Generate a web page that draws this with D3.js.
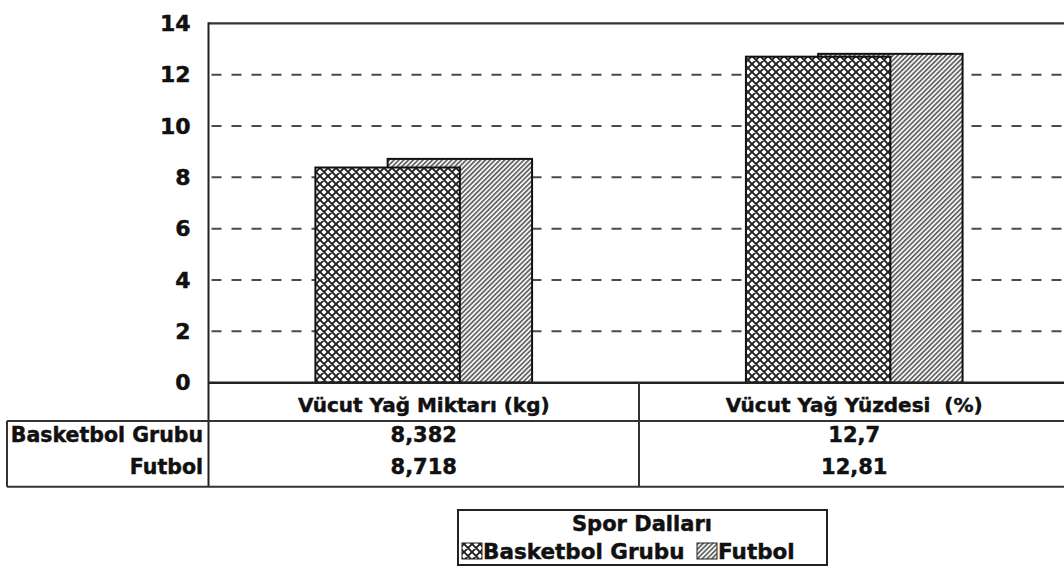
<!DOCTYPE html>
<html>
<head>
<meta charset="utf-8">
<script src="https://cdn.jsdelivr.net/npm/d3@7"></script>
<style>
  html, body { margin: 0; padding: 0; background: #fff; overflow: hidden; }
  svg { display: block; }
  text { font-family: "DejaVu Sans", "Liberation Sans", Arial, sans-serif; font-weight: bold; fill: #111; stroke: #111; stroke-width: 0.45px; }
</style>
</head>
<body>
<script>
// Body fat measures by sport group
const categories = ["Vücut Yağ Miktarı (kg)", "Vücut Yağ Yüzdesi  (%)"];
const seriesNames = ["Basketbol Grubu", "Futbol"];
const basketbolValues = [8.382, 12.7];
const futbolValues = [8.718, 12.81];
const valueLabels = [["8,382", "12,7"], ["8,718", "12,81"]];
const yTicks = [0, 2, 4, 6, 8, 10, 12, 14];
const legendTitle = "Spor Dalları";

const W = 1064, H = 567;
const svg = d3.select("body").append("svg").attr("width", W).attr("height", H);

// Fill patterns
const defs = svg.append("defs");
const cross = defs.append("pattern").attr("id", "pat-cross")
  .attr("patternUnits", "userSpaceOnUse").attr("width", 8).attr("height", 8);
cross.append("rect").attr("width", 8).attr("height", 8).attr("fill", "#fff");
cross.append("path")
  .attr("d", "M0,0L8,8M8,0L0,8M-2,6L2,10M6,-2L10,2M-2,2L2,-2M6,10L10,6")
  .attr("stroke", "#1e1e1e").attr("stroke-width", 1.9);

const diag = defs.append("pattern").attr("id", "pat-diag")
  .attr("patternUnits", "userSpaceOnUse").attr("width", 3.4).attr("height", 3.4)
  .attr("patternTransform", "rotate(45)");
diag.append("rect").attr("width", 3.4).attr("height", 3.4).attr("fill", "#f4f4f4");
diag.append("line").attr("x1", 0.8).attr("y1", 0).attr("x2", 0.8).attr("y2", 3.4)
  .attr("stroke", "#3a3a3a").attr("stroke-width", 1.3);

const fills = { "Basketbol Grubu": "url(#pat-cross)", "Futbol": "url(#pat-diag)" };

// Plot geometry
const plot = { left: 208.5, right: 1069.5, top: 23.3, bottom: 382.7 };
const table = { left: 7, headerBottom: 421, bottom: 486.7 };

const x = d3.scaleBand().domain(categories).range([plot.left, plot.right]).paddingInner(0).paddingOuter(0);
const y = d3.scaleLinear().domain([0, 14]).range([plot.bottom, plot.top]);

// Bars overlap by half their width; the group is 1.5 bar widths wide
const barW = x.bandwidth() * 0.3355;
const groupW = barW * 1.5;
const seriesOffset = d3.scaleOrdinal().domain(seriesNames).range([0, barW * 0.5]);

// Dashed gridlines
svg.append("g").selectAll("line").data(yTicks.filter(t => t > 0 && t < 14)).join("line")
  .attr("x1", plot.left + 3).attr("x2", plot.right)
  .attr("y1", d => y(d)).attr("y2", d => y(d))
  .attr("stroke", "#4a4a4a").attr("stroke-width", 2)
  .attr("stroke-dasharray", "10,10");

// Plot frame (top)
svg.append("line").attr("x1", plot.left).attr("x2", plot.right)
  .attr("y1", y(14)).attr("y2", y(14)).attr("stroke", "#333").attr("stroke-width", 2.2);

// Bars: Futbol behind, Basketbol in front
const seriesData = [
  { name: "Futbol", values: futbolValues },
  { name: "Basketbol Grubu", values: basketbolValues }
];
seriesData.forEach(s => {
  svg.append("g").selectAll("rect").data(s.values.map((v, i) => ({ c: categories[i], v }))).join("rect")
    .attr("x", d => x(d.c) + (x.bandwidth() - groupW) / 2 + seriesOffset(s.name))
    .attr("y", d => y(d.v))
    .attr("width", barW)
    .attr("height", d => y(0) - y(d.v))
    .attr("fill", fills[s.name])
    .attr("stroke", "#111").attr("stroke-width", 2);
});

// Y axis labels
const yAxis = d3.axisLeft(y).tickValues(yTicks).tickSize(0).tickPadding(18).tickFormat(d3.format("d"));
const yg = svg.append("g").attr("transform", `translate(${plot.left},0)`).call(yAxis);
yg.select(".domain").remove();
yg.selectAll("text").style("font-size", "22px").attr("fill", "#111")
  .style("font-family", "\"DejaVu Sans\", sans-serif").style("font-weight", "bold");

// Zero line and left axis line
svg.append("line").attr("x1", plot.left).attr("x2", plot.right)
  .attr("y1", y(0)).attr("y2", y(0)).attr("stroke", "#222").attr("stroke-width", 2.6);
svg.append("line").attr("x1", plot.left).attr("x2", plot.left)
  .attr("y1", y(14) - 1).attr("y2", table.bottom).attr("stroke", "#222").attr("stroke-width", 2);

// Data table
const tg = svg.append("g");
const lineStyle = sel => sel.attr("stroke", "#333").attr("stroke-width", 2);
tg.append("line").attr("x1", table.left).attr("x2", plot.right)
  .attr("y1", table.headerBottom).attr("y2", table.headerBottom).call(lineStyle);
tg.append("line").attr("x1", table.left).attr("x2", plot.right)
  .attr("y1", table.bottom).attr("y2", table.bottom).call(lineStyle);
tg.append("line").attr("x1", table.left).attr("x2", table.left)
  .attr("y1", table.headerBottom).attr("y2", table.bottom).call(lineStyle);
tg.selectAll("line.col").data(categories.slice(1)).join("line").attr("class", "col")
  .attr("x1", d => x(d)).attr("x2", d => x(d))
  .attr("y1", plot.bottom).attr("y2", table.bottom).call(lineStyle);

tg.selectAll("text.hdr").data(categories).join("text").attr("class", "hdr")
  .attr("x", d => x(d) + x.bandwidth() / 2).attr("y", 411.5)
  .attr("text-anchor", "middle").style("font-size", "20px").style("white-space", "pre")
  .text(d => d);

const rowBase = [442, 474];
tg.selectAll("text.rowlab").data(seriesNames).join("text").attr("class", "rowlab")
  .attr("x", 203).attr("y", (d, i) => rowBase[i])
  .attr("text-anchor", "end").style("font-size", "20.5px").text(d => d);

valueLabels.forEach((row, r) => {
  tg.selectAll(`text.val${r}`).data(row).join("text").attr("class", `val${r}`)
    .attr("x", (d, i) => x(categories[i]) + x.bandwidth() / 2).attr("y", rowBase[r])
    .attr("text-anchor", "middle").style("font-size", "21px").text(d => d);
});

// Legend
const lg = svg.append("g");
lg.append("rect").attr("x", 458).attr("y", 510).attr("width", 369).attr("height", 55)
  .attr("fill", "#fff").attr("stroke", "#222").attr("stroke-width", 2);
lg.append("text").attr("x", 642).attr("y", 531).attr("text-anchor", "middle")
  .style("font-size", "21px").text(legendTitle);
const legendItems = [{ name: "Basketbol Grubu", x: 462 }, { name: "Futbol", x: 697 }];
legendItems.forEach(it => {
  lg.append("rect").attr("x", it.x).attr("y", 543).attr("width", 20).attr("height", 16)
    .attr("fill", fills[it.name]).attr("stroke", "#222").attr("stroke-width", 1);
  lg.append("text").attr("x", it.x + 21).attr("y", 559).style("font-size", "21.5px").text(it.name);
});
</script>
</body>
</html>
